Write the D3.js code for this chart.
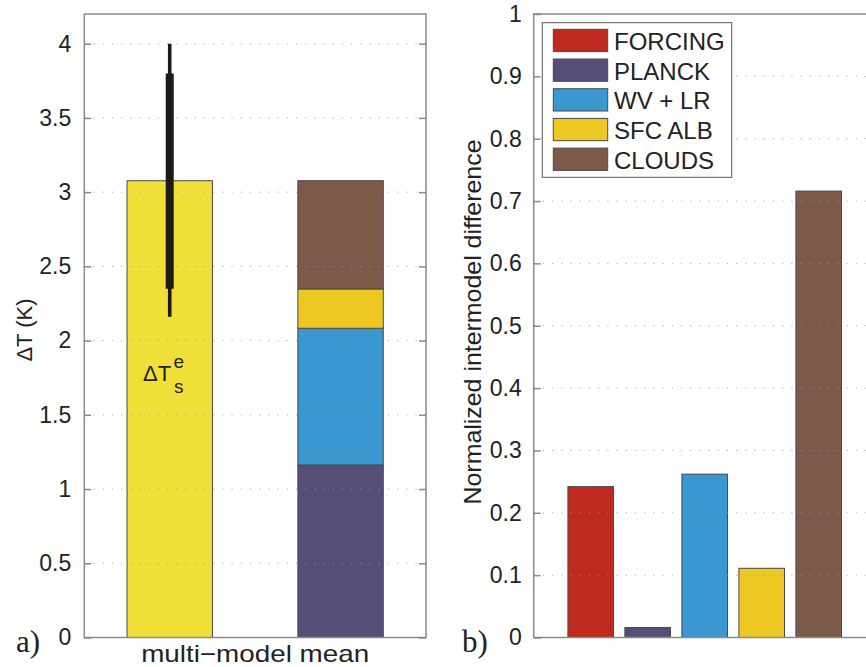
<!DOCTYPE html>
<html><head><meta charset="utf-8">
<script src="https://cdn.jsdelivr.net/npm/d3@7"></script>
<style>
html,body{margin:0;padding:0;background:#fff;}
svg{display:block;font-family:"Liberation Sans",Arial,sans-serif;}
</style></head>
<body><svg id="c" width="866" height="667"></svg>
<script>
// ---- data ----
const leftTicks = [0,0.5,1,1.5,2,2.5,3,3.5,4];
const rightTicks = [0,0.1,0.2,0.3,0.4,0.5,0.6,0.7,0.8,0.9,1];
const meanWarming = 3.077;           // ΔT_s^e multi-model mean
const errThick = [2.35, 3.80];       // thick error range
const errThin = [2.16, 4.00];        // thin error range
const components = ["FORCING","PLANCK","WV + LR","SFC ALB","CLOUDS"];
const stackNames = ["PLANCK","WV + LR","SFC ALB","CLOUDS"];
const stackValues = [1.162, 0.921, 0.265, 0.729];
const intermodelDiff = [0.242, 0.016, 0.262, 0.111, 0.716];
const colors = {"FORCING":"#BE2A20","PLANCK":"#554E77","WV + LR":"#3A97CF","SFC ALB":"#EDC822","CLOUDS":"#7C5A4A"};
const bigBarColor = "#F0DF37";

const svg = d3.select("#c");
const yTop = 14, yBot = 637.5;
const gridColor = "#9a9a9a";
const axisColor = "#8a8a8a";
const barStroke = "#4a4a4a";

// ---------- LEFT PANEL ----------
const xL = d3.scaleLinear().domain([0.5,2.5]).range([84.3,426]);
const yL = d3.scaleLinear().domain([0,4.2]).range([yBot,yTop]);
const gL = svg.append("g");
const bw = 0.5;

gL.append("rect").attr("x",xL(1-bw/2)).attr("width",xL(1+bw/2)-xL(1-bw/2))
  .attr("y",yL(meanWarming)).attr("height",yL(0)-yL(meanWarming))
  .attr("fill",bigBarColor).attr("stroke",barStroke).attr("stroke-width",1);

let cum = 0;
const stacks = stackNames.map((n,i)=>{const s={name:n,y0:cum,y1:cum+stackValues[i]};cum+=stackValues[i];return s;});
gL.selectAll("rect.stk").data(stacks).join("rect").attr("class","stk")
  .attr("x",xL(2-bw/2)).attr("width",xL(2+bw/2)-xL(2-bw/2))
  .attr("y",d=>yL(d.y1)).attr("height",d=>yL(d.y0)-yL(d.y1))
  .attr("fill",d=>colors[d.name]).attr("stroke",barStroke).attr("stroke-width",1);

gL.selectAll("line.grid").data(leftTicks.filter(t=>t>0)).join("line").attr("class","grid")
  .attr("x1",xL.range()[0]).attr("x2",xL.range()[1]).attr("y1",d=>yL(d)).attr("y2",d=>yL(d))
  .attr("stroke",gridColor).attr("stroke-width",1).attr("stroke-dasharray","1.2,8").attr("opacity",0.8);

gL.append("line").attr("x1",xL(1)).attr("x2",xL(1)).attr("y1",yL(errThin[0])).attr("y2",yL(errThin[1]))
  .attr("stroke","#1a1a1a").attr("stroke-width",3.6);
gL.append("line").attr("x1",xL(1)).attr("x2",xL(1)).attr("y1",yL(errThick[0])).attr("y2",yL(errThick[1]))
  .attr("stroke","#1a1a1a").attr("stroke-width",8);

gL.append("rect").attr("x",xL.range()[0]).attr("y",yTop).attr("width",xL.range()[1]-xL.range()[0]).attr("height",yBot-yTop)
  .attr("fill","none").attr("stroke",axisColor).attr("stroke-width",1.5);
const axL = gL.append("g").attr("transform",`translate(${xL.range()[0]},0)`)
  .call(d3.axisLeft(yL).tickValues(leftTicks).tickSize(-7).tickPadding(13).tickFormat(d3.format("~g")));
axL.select(".domain").remove();
axL.selectAll(".tick line").attr("stroke",axisColor).attr("stroke-width",1.5);
axL.selectAll(".tick text").attr("font-size",23).attr("fill","#222").attr("font-family","Liberation Sans, Arial, sans-serif");
const axL2 = gL.append("g").attr("transform",`translate(${xL.range()[1]},0)`)
  .call(d3.axisRight(yL).tickValues(leftTicks).tickSize(-7).tickFormat(""));
axL2.select(".domain").remove();
axL2.selectAll(".tick line").attr("stroke",axisColor).attr("stroke-width",1.5);

gL.append("text").attr("x",143).attr("y",381).attr("font-size",22).attr("fill","#222").text("ΔT");
gL.append("text").attr("x",173.5).attr("y",368).attr("font-size",19).attr("fill","#222").text("e");
gL.append("text").attr("x",174).attr("y",393).attr("font-size",19).attr("fill","#222").text("s");

gL.append("text").attr("transform","translate(32,330) rotate(-90)").attr("text-anchor","middle")
  .attr("font-size",22).attr("fill","#222").text("ΔT (K)");
gL.append("text").attr("x",(xL.range()[0]+xL.range()[1])/2).attr("y",662).attr("text-anchor","middle")
  .attr("font-size",24).attr("fill","#222").attr("textLength",228).attr("lengthAdjust","spacingAndGlyphs").text("multi\u2212model mean");
svg.append("text").attr("x",16).attr("y",652).attr("font-family","Liberation Serif, Times New Roman, serif")
  .attr("font-size",31).attr("fill","#222").text("a)");

// ---------- RIGHT PANEL ----------
const xR = d3.scaleLinear().domain([0,6]).range([533.7,875.7]);
const yR = d3.scaleLinear().domain([0,1]).range([yBot,yTop]);
const gR = svg.append("g");
const bw2 = 0.8;
gR.selectAll("rect.bar").data(components).join("rect").attr("class","bar")
  .attr("x",(d,i)=>xR(i+1-bw2/2)).attr("width",xR(bw2)-xR(0))
  .attr("y",(d,i)=>yR(intermodelDiff[i])).attr("height",(d,i)=>yR(0)-yR(intermodelDiff[i]))
  .attr("fill",d=>colors[d]).attr("stroke",barStroke).attr("stroke-width",1);
gR.selectAll("line.grid").data(rightTicks.filter(t=>t>0&&t<1)).join("line").attr("class","grid")
  .attr("x1",xR.range()[0]).attr("x2",xR.range()[1]).attr("y1",d=>yR(d)).attr("y2",d=>yR(d))
  .attr("stroke",gridColor).attr("stroke-width",1).attr("stroke-dasharray","1.2,8").attr("opacity",0.8);
gR.append("path").attr("d",`M${xR.range()[1]},${yTop}H${xR.range()[0]}V${yBot}H${xR.range()[1]}`)
  .attr("fill","none").attr("stroke",axisColor).attr("stroke-width",1.5);
const axR = gR.append("g").attr("transform",`translate(${xR.range()[0]},0)`)
  .call(d3.axisLeft(yR).tickValues(rightTicks).tickSize(-7).tickPadding(12).tickFormat(d3.format("~g")));
axR.select(".domain").remove();
axR.selectAll(".tick line").attr("stroke",axisColor).attr("stroke-width",1.5);
axR.selectAll(".tick text").attr("font-size",23).attr("fill","#222").attr("font-family","Liberation Sans, Arial, sans-serif");

gR.append("text").attr("transform","translate(481,322) rotate(-90)").attr("text-anchor","middle")
  .attr("font-size",24).attr("fill","#222").attr("textLength",365).attr("lengthAdjust","spacingAndGlyphs")
  .text("Normalized intermodel difference");
svg.append("text").attr("x",462).attr("y",652).attr("font-family","Liberation Serif, Times New Roman, serif")
  .attr("font-size",31).attr("fill","#222").text("b)");

const lg = gR.append("g");
lg.append("rect").attr("x",542.3).attr("y",22.7).attr("width",189.4).attr("height",154.6)
  .attr("fill","#fff").attr("stroke","#555").attr("stroke-width",1);
const rows = lg.selectAll("g.row").data(components).join("g").attr("class","row")
  .attr("transform",(d,i)=>`translate(0,${29.3+i*29.7})`);
rows.append("rect").attr("x",553.3).attr("y",0).attr("width",54.4).attr("height",22.3)
  .attr("fill",d=>colors[d]).attr("stroke",barStroke).attr("stroke-width",1);
rows.append("text").attr("x",614).attr("y",20.5).attr("font-size",24).attr("fill","#222").text(d=>d);
</script></body></html>
